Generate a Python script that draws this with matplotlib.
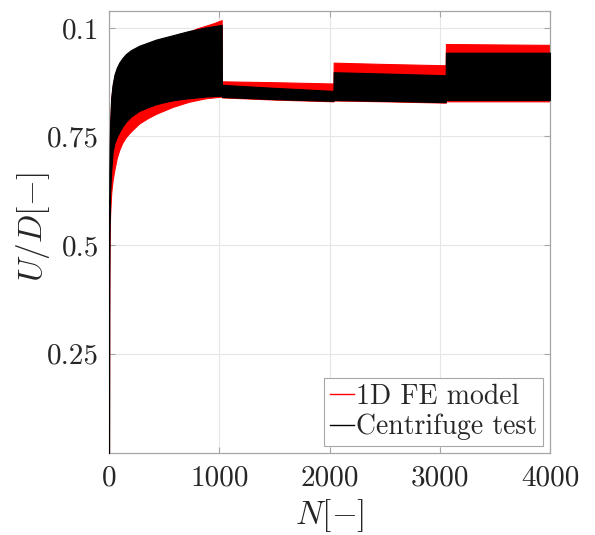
import matplotlib
matplotlib.use("Agg")
import matplotlib.pyplot as plt

plt.rcParams["mathtext.fontset"] = "cm"
plt.rcParams["font.family"] = ["cmr10", "DejaVu Serif"]
plt.rcParams["axes.formatter.use_mathtext"] = True

# Load cycle number (stage boundaries duplicated to give vertical steps)
cycles = [0, 1, 3, 6, 10, 20, 33, 50, 70, 93, 120, 154, 200, 274, 350, 425,
          500, 576, 650, 726, 800, 877, 950, 1022,
          1024, 1500, 2036, 2038, 2500, 3054, 3056, 3500, 4000]

# Centrifuge test: envelope of the cyclic displacement U/D
test_upper = [0.002, 0.052, 0.066, 0.073, 0.078, 0.0840, 0.0870, 0.0893,
              0.0908, 0.0920, 0.0930, 0.0940, 0.0949, 0.0959, 0.0966, 0.0973,
              0.0978, 0.0983, 0.0988, 0.0993, 0.0997, 0.1001, 0.1004, 0.1007,
              0.0869, 0.0862, 0.0855, 0.0898, 0.0895, 0.0891, 0.0943, 0.0943,
              0.0943]
test_lower = [0.002, 0.040, 0.052, 0.058, 0.062, 0.067, 0.0715, 0.0735,
              0.0748, 0.0760, 0.0772, 0.0784, 0.0796, 0.0809, 0.0817, 0.0824,
              0.0829, 0.0833, 0.0836, 0.0838, 0.0840, 0.0842, 0.0843, 0.0844,
              0.0841, 0.0836, 0.0832, 0.0834, 0.0832, 0.0829, 0.0834, 0.0834,
              0.0834]

# 1D FE model: envelope of the cyclic displacement U/D
fe_upper = [0.002, 0.050, 0.064, 0.071, 0.0775, 0.0835, 0.0865, 0.0888,
            0.0903, 0.0915, 0.0925, 0.0935, 0.0944, 0.0954, 0.0961, 0.0968,
            0.0973, 0.0979, 0.0985, 0.0991, 0.0999, 0.1005, 0.1011, 0.1018,
            0.0877, 0.0875, 0.0872, 0.0920, 0.0917, 0.0914, 0.0963, 0.0962,
            0.0961]
fe_lower = [0.002, 0.034, 0.046, 0.053, 0.057, 0.062, 0.0650, 0.0675,
            0.0700, 0.0719, 0.0735, 0.0749, 0.0762, 0.0780, 0.0792, 0.0802,
            0.0810, 0.0818, 0.0824, 0.0830, 0.0834, 0.0838, 0.0840, 0.0842,
            0.0840, 0.0835, 0.0831, 0.0833, 0.0831, 0.0828, 0.0831, 0.0831,
            0.0831]

y_ticks = [0.025, 0.05, 0.075, 0.1]
y_tick_labels = ["0.25", "0.5", "0.75", "0.1"]
x_ticks = [0, 1000, 2000, 3000, 4000]
x_tick_labels = ["0", "1000", "2000", "3000", "4000"]

fig = plt.figure(figsize=(5.95, 5.35), dpi=100)
ax = fig.add_axes([109 / 595, 1 - 453 / 535, 441 / 595, 442 / 535])

ax.fill_between(cycles, fe_lower, fe_upper, color="#ff0000",
                edgecolor="#ff0000", linewidth=0.8, zorder=2)
ax.fill_between(cycles, test_lower, test_upper, color="black",
                edgecolor="black", linewidth=0.8, zorder=3)

# legend proxies
ax.plot([], [], color="#ff0000", lw=1.0, label="1D FE model")
ax.plot([], [], color="black", lw=1.0, label="Centrifuge test")

ax.set_xlim(0, 4000)
ax.set_ylim(0.0021, 0.1039)
ax.set_xticks(x_ticks)
ax.set_xticklabels(x_tick_labels)
ax.set_yticks(y_ticks)
ax.set_yticklabels(y_tick_labels)

ax.grid(True, color="#e6e6e6", linewidth=0.8, zorder=0)
ax.set_axisbelow(True)
for s in ax.spines.values():
    s.set_color("#a6a6a6")
    s.set_linewidth(0.9)
ax.tick_params(direction="in", length=4, width=0.8, color="#a6a6a6",
               top=True, right=True, labelsize=21, labelcolor="#262626")
ax.tick_params(axis="y", pad=7)
ax.tick_params(axis="x", pad=9)

ax.set_xlabel(r"$N[-]$", fontsize=24, color="#262626")
ax.set_ylabel(r"$U/D[-]$", fontsize=24, color="#262626")
ax.xaxis.set_label_coords(0.5, -0.100)
ax.yaxis.set_label_coords(-0.13, 0.51)

leg = ax.legend(loc="lower right", fontsize=20, frameon=True, fancybox=False,
                handlelength=0.85, handletextpad=0.1, labelspacing=0.15,
                borderpad=0.2, borderaxespad=0.25, framealpha=1)
leg.get_frame().set_edgecolor("#a6a6a6")
leg.get_frame().set_linewidth(0.8)
for t in leg.get_texts():
    t.set_color("#262626")

fig.savefig("out.png", dpi=100)
